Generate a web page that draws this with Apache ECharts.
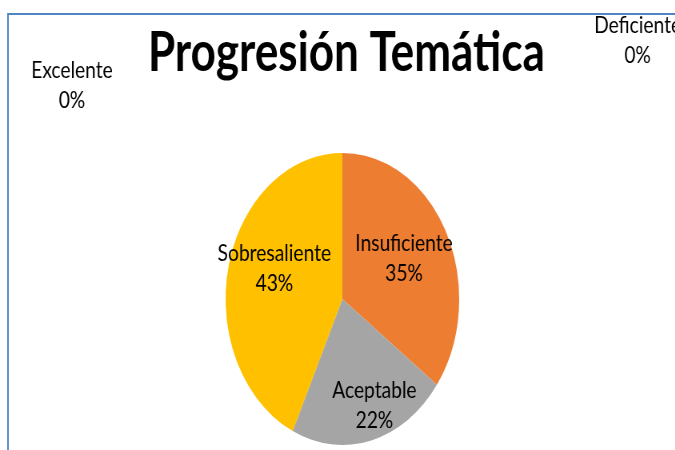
<!DOCTYPE html>
<html>
<head>
<meta charset="utf-8">
<script src="https://cdn.jsdelivr.net/npm/echarts@6/dist/echarts.min.js"></script>
<style>
  html, body { margin: 0; padding: 0; background: #fff; overflow: hidden; }
  #wrap { width: 675px; height: 450px; overflow: hidden; position: relative; }
  /* the original chart is squeezed sideways, so draw wide and compress */
  #chart {
    width: 844px; height: 450px;
    transform: scaleX(0.8); transform-origin: 0 0;
  }
</style>
</head>
<body>
<div id="wrap"><div id="chart"></div></div>
<script>
const categories = ['Deficiente', 'Insuficiente', 'Aceptable', 'Sobresaliente', 'Excelente'];
const values = [0, 35, 22, 43, 0];
const colors = ['#5B9BD5', '#ED7D31', '#A5A5A5', '#FFC000', '#4472C4'];

// where Excel left each label (uncompressed px)
const labelPos = [[797, 40], [505, 258], [468, 405], [343, 268], [90, 85]];

const chart = echarts.init(document.getElementById('chart'));
chart.setOption({
  animation: false,
  title: {
    text: 'Progresión Temática',
    left: 428,
    textAlign: 'center',
    top: 21,
    textStyle: { fontFamily: 'Lato', fontWeight: 'bold', fontSize: 55, color: '#000' }
  },
  graphic: [{
    type: 'rect',
    shape: { x: 10, y: 14, width: 1000, height: 600 },
    style: { fill: 'none', stroke: '#4F86C6', lineWidth: 2 },
    silent: true
  }],
  series: [{
    type: 'pie',
    center: [428, 299],
    radius: 146,
    startAngle: 90,
    clockwise: true,
    avoidLabelOverlap: false,
    itemStyle: { borderWidth: 0 },
    label: {
      show: true,
      position: 'inside',
      formatter: '{b}\n{d}%',
      fontFamily: 'Lato',
      fontSize: 24,
      lineHeight: 30,
      color: '#000',
      align: 'center'
    },
    labelLine: { show: false },
    labelLayout: function (params) {
      const p = labelPos[params.dataIndex];
      return { x: p[0], y: p[1], align: 'center', verticalAlign: 'middle' };
    },
    data: categories.map((name, i) => ({
      name,
      value: values[i],
      itemStyle: { color: colors[i] }
    }))
  }]
});
</script>
</body>
</html>
